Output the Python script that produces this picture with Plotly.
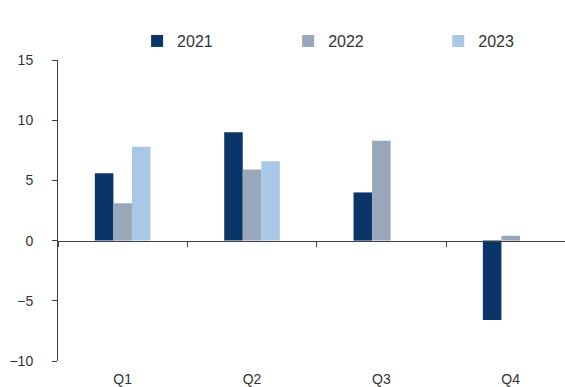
import plotly.graph_objects as go

quarters = ["Q1", "Q2", "Q3", "Q4"]
years = ["2021", "2022", "2023"]
values_2021 = [5.6, 9.0, 4.0, -6.6]
values_2022 = [3.1, 5.9, 8.3, 0.4]
values_2023 = [7.8, 6.6, None, None]
colors = ["#0a3568", "#98a8ba", "#a9c8e8"]
y_ticks = [-10, -5, 0, 5, 10, 15]

series = [values_2021, values_2022, values_2023]
legend_ids = ["legend", "legend2", "legend3"]
legend_x = [0.156, 0.454, 0.750]

fig = go.Figure()
for name, vals, col, lg in zip(years, series, colors, legend_ids):
    fig.add_trace(go.Bar(x=quarters, y=vals, name=name, marker_color=col,
                         marker_line_width=0, legend=lg))

# helper trace so the zero-line axis (x2) is drawn
fig.add_trace(go.Scatter(x=quarters, y=[None] * len(quarters), xaxis="x2",
                         showlegend=False, hoverinfo="skip", mode="markers"))

font_family = "Liberation Sans, Arial, sans-serif"
legend_common = dict(orientation="h", xanchor="left", y=1.063, yanchor="middle",
                     font=dict(size=16, color="#333333"), bgcolor="rgba(0,0,0,0)")
fig.update_layout(
    width=565, height=387,
    margin=dict(l=58, r=0, t=60, b=26),
    paper_bgcolor="white", plot_bgcolor="white",
    font=dict(family=font_family, size=14, color="#333333"),
    barmode="group", bargap=0.57, bargroupgap=0,
    showlegend=True,
    legend=dict(x=legend_x[0], **legend_common),
    legend2=dict(x=legend_x[1], **legend_common),
    legend3=dict(x=legend_x[2], **legend_common),
    xaxis=dict(range=[-0.5, 3.42], showline=False, showgrid=False, zeroline=False,
               ticks="outside", ticklen=0, tickcolor="rgba(0,0,0,0)",
               ticklabelstandoff=5, tickfont=dict(size=14), automargin=False),
    xaxis2=dict(matches="x", overlaying="x", anchor="free", position=0.4,
                showline=True, linecolor="#404040", linewidth=1,
                ticks="outside", tickson="boundaries", ticklen=5, tickcolor="#404040",
                showticklabels=False, showgrid=False, zeroline=False, automargin=False),
    yaxis=dict(range=[-10, 15], tickvals=y_ticks, showline=True, linecolor="#404040",
               linewidth=1, ticks="outside", ticklen=5, tickcolor="#404040",
               showgrid=False, zeroline=False, ticklabelstandoff=16,
               tickfont=dict(size=14), automargin=False),
)

fig.write_html("out.html")
